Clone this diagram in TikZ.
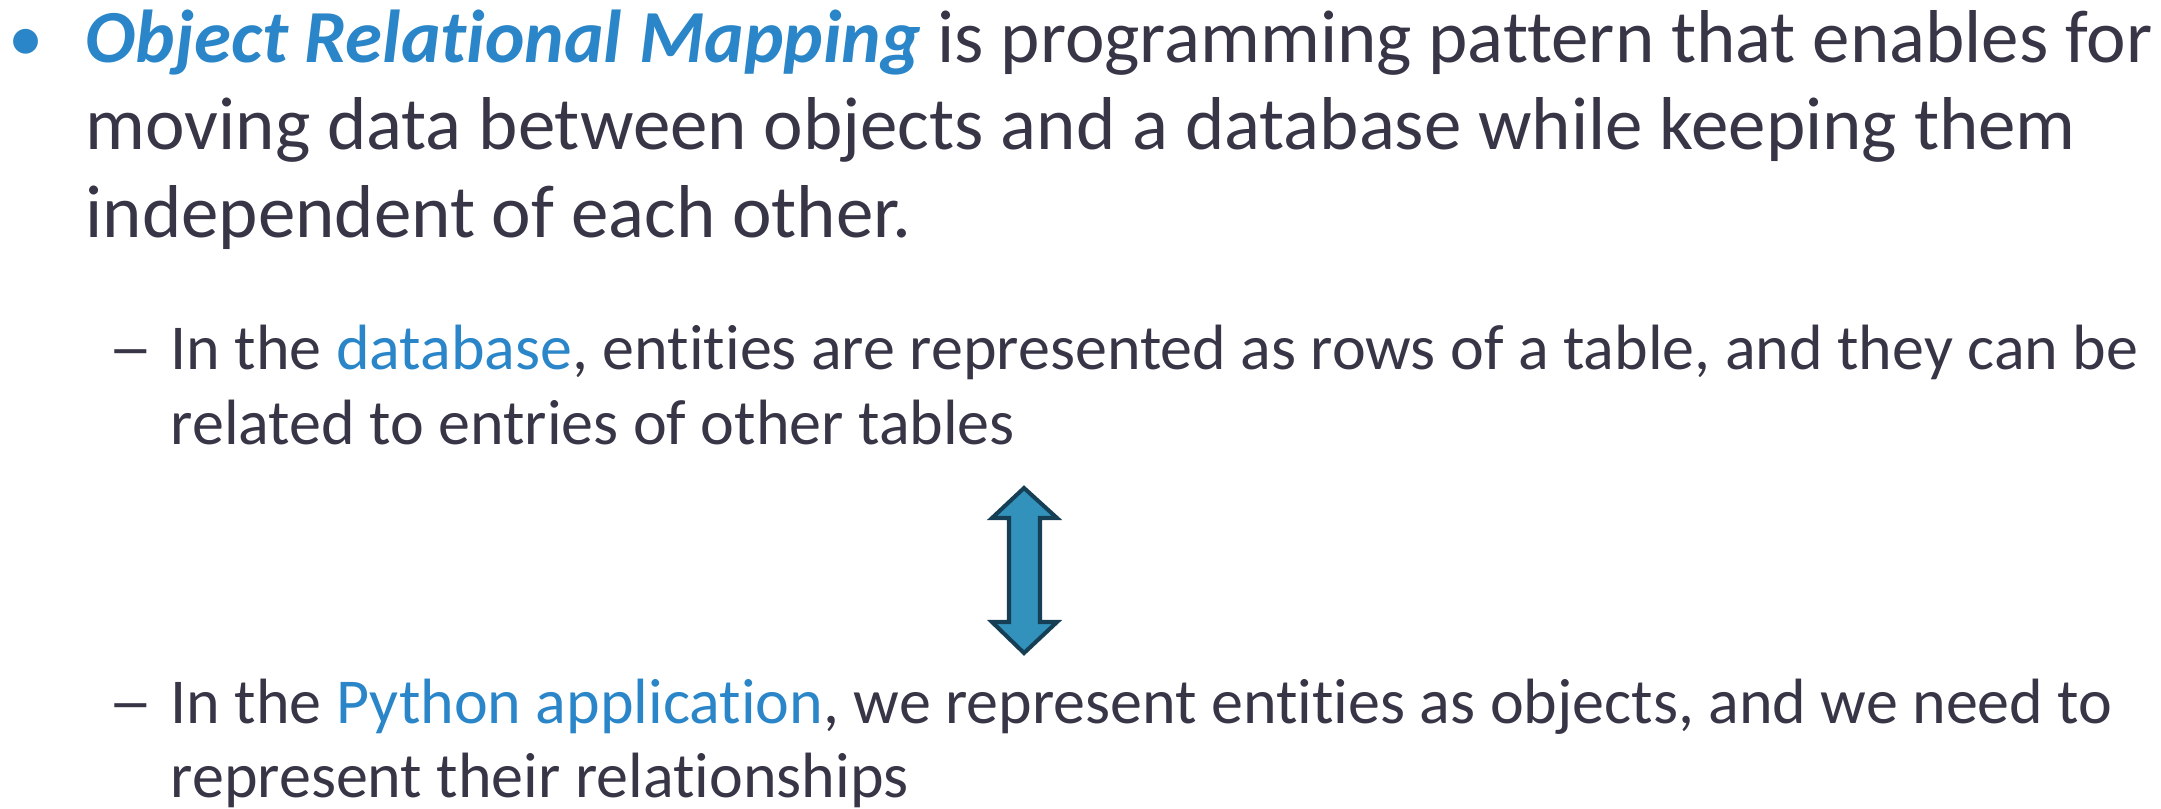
\documentclass[tikz,border=0pt]{standalone}
\usepackage{fontspec}
\setmainfont{Carlito}[RawFeature={-liga;-clig;-calt;-dlig}]
\newcommand\tI{t\kern0pt i}
\definecolor{txt}{RGB}{55,53,70}
\definecolor{acc}{RGB}{42,134,200}
\definecolor{arrfill}{RGB}{50,146,188}
\definecolor{arrline}{RGB}{22,62,84}
\tikzset{
  mainline/.style={anchor=base west, inner sep=0pt, text=txt, font=\fontsize{21.3}{25}\selectfont},
  subline/.style={anchor=base west, inner sep=0pt, text=txt, font=\fontsize{18.2}{22}\selectfont},
  bigarrow/.style={draw=arrline, fill=arrfill, line width=1.15pt, line join=miter},
}
\begin{document}
\begin{tikzpicture}[x=0.01cm,y=-0.01cm]
\useasboundingbox (0,0) rectangle (2161,808);
\clip (0,0) rectangle (2161,808);
% main bullet
\node[anchor=base west, inner sep=0pt, text=acc, font=\fontsize{20}{24}\selectfont] (b1) at (8,61) {•};
\node[mainline] (m1) at (85,62) {\textcolor{acc}{\textbf{\textit{Object Rela\tI onal Mapping}}} is programming pattern that enables for};
\node[mainline] (m2) at (85,149) {moving data between objects and a database while keeping them};
\node[mainline] (m3) at (85,237) {independent of each other.};
% sub bullet 1
\node[subline] (d1) at (108,369) {\scalebox{1.4}[1]{–}};
\node[subline] (s1) at (170,369) {In the \textcolor{acc}{database}, en\tI\tI es are represented as rows of a table, and they can be};
\node[subline] (s2) at (170,444) {related to entries of other tables};
% double arrow
\draw[bigarrow] (1024,488) -- (1057,518) -- (1040,518) -- (1040,622) -- (1057,622)
  -- (1024,653) -- (992,622) -- (1009,622) -- (1009,518) -- (992,518) -- cycle;
% sub bullet 2
\node[subline] (d2) at (108,723) {\scalebox{1.4}[1]{–}};
\node[subline] (s3) at (170,723) {In the \textcolor{acc}{Python applica\tI on}, we represent en\tI\tI es as objects, and we need to};
\node[subline] (s4) at (170,797) {represent their rela\tI onships};
\end{tikzpicture}
\end{document}
